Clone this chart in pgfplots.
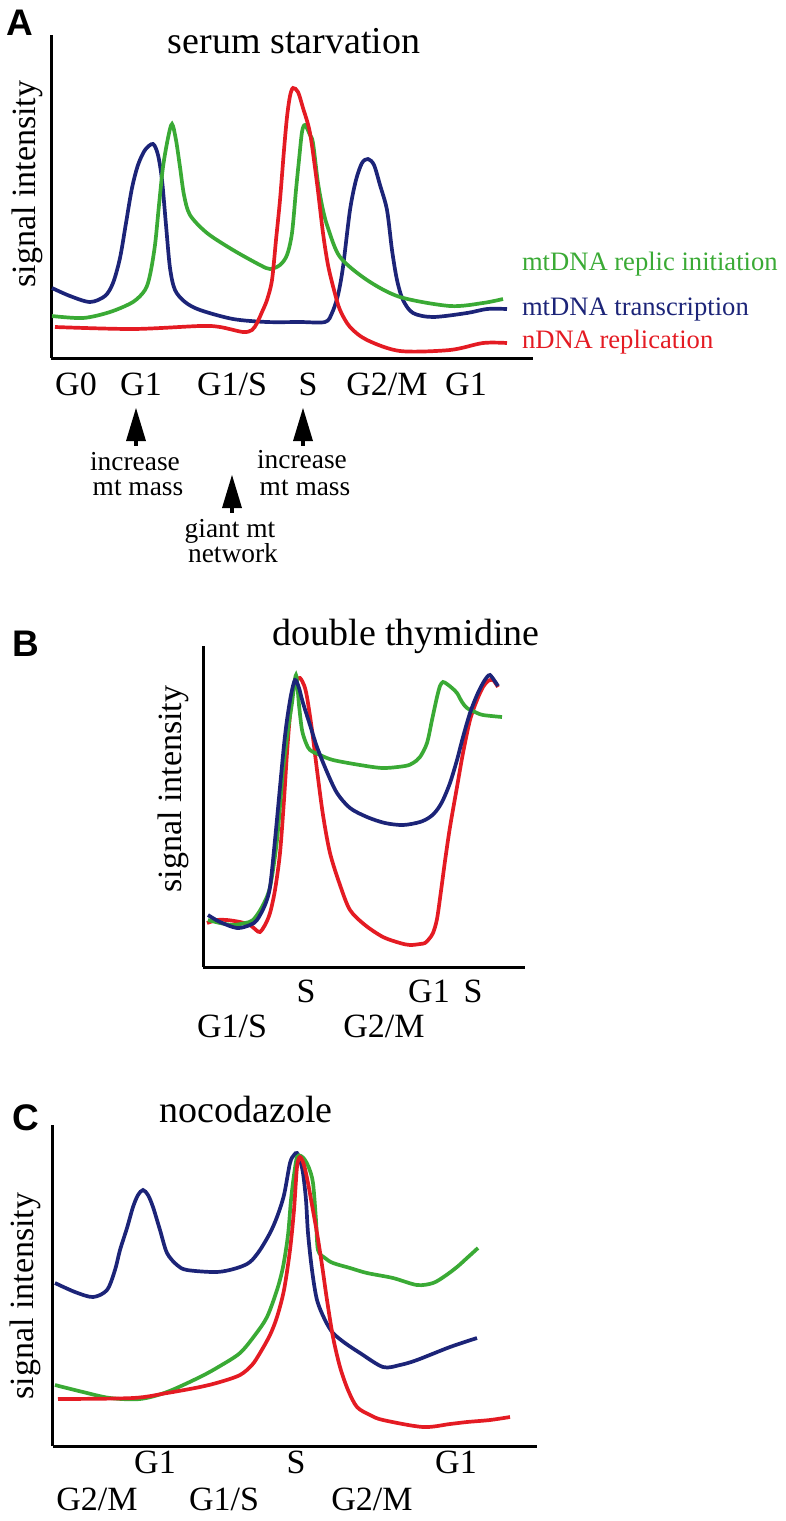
\documentclass[border=0pt]{standalone}
\usepackage{fontspec}
\setmainfont{Liberation Serif}
\newfontfamily\panelfont{Liberation Sans}
\usepackage{pgfplots}
\pgfplotsset{compat=1.18}

\definecolor{cgreen}{RGB}{58,170,53}
\definecolor{cnavy}{RGB}{28,36,120}
\definecolor{cred}{RGB}{228,27,35}

\newcommand{\ttl}{\fontsize{19pt}{22pt}\selectfont}
\newcommand{\tck}{\fontsize{17pt}{20pt}\selectfont}
\newcommand{\lgd}{\fontsize{13.3pt}{16pt}\selectfont}
\newcommand{\ann}{\fontsize{13.7pt}{16pt}\selectfont}
\newcommand{\pl}{\panelfont\bfseries\fontsize{18.5pt}{20pt}\selectfont}

\pgfplotsset{
  sketch/.style={
    scale only axis, anchor=south west, clip=false,
    axis lines=left, axis line style={-, line width=1.5pt, black},
    xtick=\empty, ytick=\empty,
  },
  crv/.style={smooth, no markers, line width=1.85pt},
}

\begin{document}
\begin{tikzpicture}
\path[use as bounding box] (0,0) rectangle (393pt,-760.5pt);

% ---------- A: serum starvation ----------
\begin{axis}[sketch, at={(25.5pt,-179pt)}, width=241pt, height=161.5pt,
  xmin=51, xmax=533, ymin=0, ymax=323]
\addplot[crv, cnavy] coordinates {
 (52,70) (70,62) (90,56) (105,62) (113,75) (120,100) (126,135) (132,170)
 (138,193) (145,208) (153,214) (158,203) (162,178) (166,133) (170,90)
 (175,68) (185,56) (200,48) (233,39) (267,36) (300,36) (325,36) (332,45)
 (338,63) (343,91) (350,148) (356,178) (362,195) (368,199) (374,193)
 (380,173) (387,148) (392,108) (397,78) (403,58) (413,45) (433,41)
 (467,45) (487,49) (507,49)};
\addplot[crv, cgreen] coordinates {
 (52,42) (83,40) (110,46) (133,56) (145,68) (150,83) (155,113) (159,153)
 (163,191) (168,220) (172,234) (176,218) (180,191) (184,163) (190,143)
 (207,125) (233,108) (260,93) (270,89) (280,93) (287,103) (292,125)
 (296,168) (299,198) (302,226) (305,233) (310,223) (313,215) (318,175)
 (323,148) (328,130) (340,101) (367,78) (400,61) (450,52) (483,55) (503,59)};
\addplot[crv, cred] coordinates {
 (55,31) (133,29) (200,32) (220,31) (243,26) (252,28) (257,35) (262,46)
 (267,58) (272,78) (276,118) (280,158) (284,208) (287,241) (290,262)
 (293,270) (298,266) (303,250) (310,225) (317,175) (323,125) (328,93)
 (334,68) (340,48) (350,31) (367,18) (400,7) (450,8) (483,15) (507,15)};
\end{axis}

% ---------- B: double thymidine ----------
\begin{axis}[sketch, at={(101.5pt,-483.5pt)}, width=161pt, height=160.5pt,
  xmin=203, xmax=525, ymin=0, ymax=321]
\addplot[crv, cred] coordinates {
 (207,44) (217,47) (227,47) (240,45) (250,42) (256,37) (260,35) (265,42)
 (270,54) (275,77) (280,114) (284,167) (287,214) (290,252) (293,277)
 (297,287) (300,289) (304,282) (307,270) (312,237) (317,197) (323,152)
 (330,114) (340,82) (350,57) (365,42) (383,30) (400,24) (410,22) (420,23)
 (425,24) (429,28) (433,34) (437,48) (441,76) (445,106) (450,140)
 (457,180) (463,214) (470,247) (477,267) (483,280) (488,286) (493,287) (498,280)};
\addplot[crv, cgreen] coordinates {
 (208,47) (220,44) (233,42) (245,44) (253,47) (262,60) (270,80) (277,127)
 (283,197) (288,237) (292,264) (296,292) (299,262) (302,237) (306,224)
 (310,217) (320,212) (333,207) (360,202) (383,199) (405,201) (413,204)
 (420,210) (427,224) (432,247) (437,270) (440,281) (443,285) (447,283)
 (452,279) (457,274) (462,265) (467,259) (475,255) (483,252) (502,250)};
\addplot[crv, cnavy] coordinates {
 (208,52) (220,45) (237,39) (250,42) (257,47) (265,62) (270,80) (275,127)
 (280,180) (284,222) (287,247) (291,272) (295,287) (299,279) (303,264)
 (310,242) (317,220) (327,195) (337,174) (350,159) (367,150) (385,144)
 (403,142) (420,145) (430,150) (437,157) (443,167) (450,184) (457,207)
 (463,230) (470,254) (477,272) (483,284) (487,290) (490,292) (494,287) (498,281)};
\end{axis}

% ---------- C: nocodazole ----------
\begin{axis}[sketch, at={(26.5pt,-723pt)}, width=242pt, height=160.5pt,
  xmin=53, xmax=537, ymin=0, ymax=321]
\addplot[crv, cnavy] coordinates {
 (55,163) (75,154) (93,149) (107,156) (115,176) (120,196) (127,218)
 (133,239) (138,251) (143,256) (148,251) (153,239) (160,216) (167,193)
 (177,181) (187,176) (217,174) (237,178) (250,184) (260,196) (270,213)
 (277,229) (284,251) (290,283) (294,291) (297,293) (300,286) (303,273)
 (306,246) (308,213) (312,176) (317,146) (325,126) (333,113) (345,103)
 (360,93) (383,79) (400,81) (417,86) (450,99) (477,108)};
\addplot[crv, cgreen] coordinates {
 (55,61) (83,54) (110,48) (140,47) (167,54) (200,69) (220,80) (240,93)
 (255,111) (267,129) (277,156) (283,179) (288,211) (291,246) (294,271)
 (297,289) (301,290) (305,286) (309,278) (313,263) (316,226) (318,196)
 (325,188) (333,183) (350,178) (367,173) (393,168) (417,161) (433,163)
 (445,170) (457,179) (467,188) (478,198)};
\addplot[crv, cred] coordinates {
 (58,47) (133,48) (167,53) (200,59) (220,64) (240,71) (252,81) (260,93)
 (270,111) (277,129) (284,156) (290,196) (294,236) (297,279) (300,289)
 (304,281) (308,263) (312,241) (317,213) (322,181) (327,146) (333,109)
 (340,79) (348,56) (357,39) (370,31) (383,26) (423,19) (450,22) (467,24)
 (490,26) (510,29)};
\end{axis}

% ---------- text and annotations (pixel grid, y downwards) ----------
\begin{scope}[x=0.5pt, y=-0.5pt, every node/.style={inner sep=0pt, outer sep=0pt}]
% panel A
\node[anchor=base west] at (6,35) {\pl A};
\node[anchor=base] at (294,53) {\ttl serum starvation};
\node[rotate=90] at (27,184) {\tck signal intensity};
\foreach \x/\t in {76/G0, 141/G1, 232/{G1/S}, 308/S, 387/{G2/M}, 466/G1}
  \node[anchor=base] at (\x,395) {\tck \t};
\node[anchor=base west, text=cgreen] at (522,270) {\lgd mtDNA replic initiation};
\node[anchor=base west, text=cnavy] at (522,315) {\lgd mtDNA transcription};
\node[anchor=base west, text=cred] at (522,348) {\lgd nDNA replication};
\foreach \x/\y in {136/408, 303/408, 232/475} {
  \fill (\x,\y) -- (\x-10,\y+33) -- (\x+10,\y+33) -- cycle;
  \fill (\x-2,\y+32) rectangle (\x+2,\y+38);
}
\node[anchor=base] at (135,470) {\ann increase};
\node[anchor=base] at (138,495) {\ann mt mass};
\node[anchor=base] at (302,468) {\ann increase};
\node[anchor=base] at (305,495) {\ann mt mass};
\node[anchor=base] at (230,537) {\ann giant mt};
\node[anchor=base] at (233,562) {\ann network};

% panel B
\node[anchor=base west] at (12,656) {\pl B};
\node[anchor=base] at (406,645) {\ttl double thymidine};
\node[rotate=90] at (173,789) {\tck signal intensity};
\foreach \x/\t in {306/S, 429/G1, 473/S}
  \node[anchor=base] at (\x,1002) {\tck \t};
\foreach \x/\t in {232/{G1/S}, 384/{G2/M}}
  \node[anchor=base] at (\x,1037) {\tck \t};

% panel C
\node[anchor=base west] at (12,1130) {\pl C};
\node[anchor=base] at (246,1122) {\ttl nocodazole};
\node[rotate=90] at (25,1296) {\tck signal intensity};
\foreach \x/\t in {155/G1, 296/S, 456/G1}
  \node[anchor=base] at (\x,1473) {\tck \t};
\foreach \x/\t in {97/{G2/M}, 224/{G1/S}, 372/{G2/M}}
  \node[anchor=base] at (\x,1510) {\tck \t};
\end{scope}
\end{tikzpicture}
\end{document}
